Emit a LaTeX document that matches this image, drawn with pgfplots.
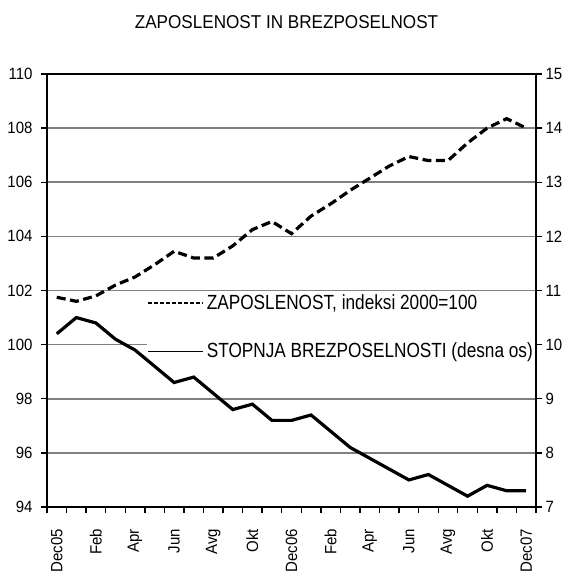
\documentclass[border=0pt]{standalone}
\usepackage{fontspec}
\setmainfont{Liberation Sans}[FakeStretch=0.92]
\newfontfamily\legfont{Liberation Sans}[FakeStretch=0.84]
\usepackage{pgfplots}
\pgfplotsset{compat=1.18}

\begin{document}
\begin{tikzpicture}
\pgfplotsset{
  common/.style={
    scale only axis, width=489bp, height=433bp,
    xmin=-0.5, xmax=24.5,
    axis line style={line width=2.4bp},
    major tick length=6bp,
    every tick/.style={black, line width=1.4bp},
    tick align=outside,
    /pgf/number format/assume math mode=true,
    ticklabel style={font=\fontsize{16.3bp}{18bp}\selectfont},
  }
}
\begin{axis}[common,
  ymin=94, ymax=110, ytick={94,96,...,110},
  ytick pos=left, xtick pos=bottom,
  ymajorgrids, grid style={line width=1.6bp, black!50},
  xtick={-0.5,0.5,1.5,2.5,3.5,4.5,5.5,6.5,7.5,8.5,9.5,10.5,11.5,12.5,13.5,14.5,15.5,16.5,17.5,18.5,19.5,20.5,21.5,22.5,23.5,24.5},
  xticklabels={},
  extra x ticks={0,2,4,6,8,10,12,14,16,18,20,22,24},
  extra x tick labels={Dec05,Feb,Apr,Jun,Avg,Okt,Dec06,Feb,Apr,Jun,Avg,Okt,Dec07},
  extra x tick style={major tick length=0pt, grid=none,
     xticklabel style={rotate=90, anchor=east, xshift=-18.5bp}},
  yticklabel style={xshift=-5bp},
  legend style={at={(0.205,0.4965)}, anchor=north west, draw=none, fill=white,
     font=\legfont\fontsize{20.5bp}{22bp}\selectfont, row sep=29bp,
     inner xsep=0bp, inner ysep=1bp,
     nodes={inner xsep=3bp, inner ysep=1.5bp}},
  legend cell align=left,
  legend image code/.code={\draw[#1] (0bp,0bp) -- (55bp,0bp);},
]
\addlegendimage{black, line width=1.4bp, dash pattern=on 4bp off 2bp}
\addlegendentry{ZAPOSLENOST, indeksi 2000=100}
\addlegendimage{black, line width=1.4bp}
\addlegendentry{STOPNJA BREZPOSELNOSTI (desna os)}
\addplot[forget plot, black, line width=3.2bp, dash pattern=on 9bp off 4.5bp] coordinates {
(0,101.75) (1,101.6) (2,101.8) (3,102.2) (4,102.5) (5,102.95) (6,103.45)
(7,103.2) (8,103.2) (9,103.65) (10,104.25) (11,104.55) (12,104.1)
(13,104.75) (14,105.2) (15,105.7) (16,106.15) (17,106.6) (18,106.95)
(19,106.8) (20,106.8) (21,107.45) (22,108.0) (23,108.35) (24,108.0)
};
\end{axis}
\begin{axis}[common,
  ymin=7, ymax=15, ytick={7,8,...,15},
  axis y line*=right, axis x line=none,
]
\addplot[black, line width=3.2bp] coordinates {
(0,10.2) (1,10.5) (2,10.4) (3,10.1) (4,9.9) (5,9.6) (6,9.3)
(7,9.4) (8,9.1) (9,8.8) (10,8.9) (11,8.6) (12,8.6)
(13,8.7) (14,8.4) (15,8.1) (16,7.9) (17,7.7) (18,7.5)
(19,7.6) (20,7.4) (21,7.2) (22,7.4) (23,7.3) (24,7.3)
};
\end{axis}
\node[anchor=base, font=\fontsize{18.6bp}{20bp}\selectfont] at (239.5bp,478.7bp) {ZAPOSLENOST IN BREZPOSELNOST};
\pgfresetboundingbox
\path[use as bounding box] (-47bp,-64bp) rectangle (520bp,507bp);
\end{tikzpicture}
\end{document}
